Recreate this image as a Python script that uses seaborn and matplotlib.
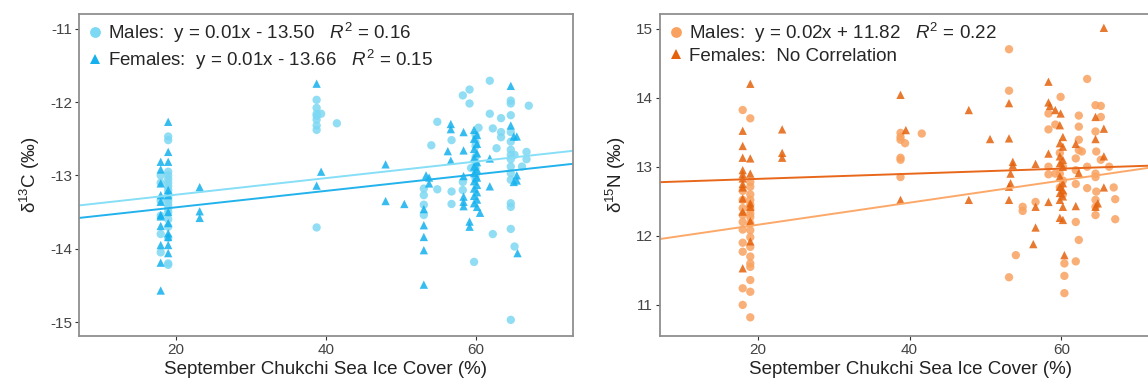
import numpy as np
import pandas as pd
import matplotlib
matplotlib.use('Agg')
import matplotlib.pyplot as plt
import seaborn as sns

# ---------------- data ----------------
# x = September Chukchi Sea ice cover (%)
c13_male_x = [18, 18, 18, 18, 18, 18,
              19, 19, 19, 19, 19, 19, 19, 19, 19, 19, 19, 19, 19, 19, 19, 19, 19, 19, 19,
              38.8, 38.8, 38.8, 38.8, 38.8, 38.8, 38.8, 39.4, 41.5, 38.8,
              54.9, 54.1, 53.1, 53.1, 53.1, 53.1, 54.9, 56.8, 56.8, 56.8,
              58.3, 59.2, 59.2, 58.3, 58.3,
              61.9, 61.9, 62.3, 62.8, 62.3, 59.8, 63.4, 63.4, 63.4,
              64.7, 64.7, 64.7, 64.7, 64.7, 64.7, 64.7, 64.7, 64.7, 64.7, 64.7, 64.7, 64.7, 64.7, 64.7,
              65.2, 65.2, 66.8, 66.8, 67.1, 66.2,
              60, 60, 60, 60, 60, 60, 60, 60, 60.4, 59.4]
c13_male_y = [-13.0, -13.1, -13.35, -13.55, -13.8, -14.05,
              -12.47, -12.52, -12.95, -13.0, -13.05, -13.1, -13.15, -13.2, -13.25, -13.3, -13.35,
              -13.4, -13.45, -13.5, -13.6, -13.7, -13.85, -14.2, -14.22,
              -11.97, -12.08, -12.16, -12.19, -12.24, -12.32, -12.38, -12.16, -12.29, -13.71,
              -12.27, -12.59, -13.18, -13.27, -13.40, -13.54, -13.19, -12.52, -13.22, -13.39,
              -11.91, -11.83, -12.02, -13.09, -13.2,
              -11.71, -12.16, -12.36, -12.63, -13.80, -14.18, -12.22, -12.41, -12.48,
              -11.98, -12.02, -12.18, -12.41, -12.54, -12.65, -12.72, -12.78, -12.88, -12.97,
              -13.06, -13.38, -13.43, -13.73, -14.97,
              -12.72, -13.97, -12.68, -12.78, -12.05, -12.88,
              -12.45, -12.55, -12.6, -12.75, -12.85, -12.9, -13.0, -13.05, -12.35, -12.9]

c13_fem_x = [18, 18, 18, 18, 18, 18, 18, 18, 18, 18, 18,
             19, 19, 19, 19, 19, 19, 19, 19, 19, 19, 19,
             23.2, 23.2, 23.2,
             38.8, 39.4, 38.8, 48, 48, 50.5,
             53.4, 53.8, 53.1, 53.1, 53.1, 53.1, 53.1, 53.8,
             56.7, 56.7, 56.3, 56.7,
             58.4, 58.4, 58.4, 58.4, 58.4, 58.4, 59.2, 59.2,
             59.8, 60.2, 59.8, 60.2, 59.8, 60.2, 59.8, 60.2, 59.8, 60.2, 59.8, 60.2, 59.8, 60.2,
             59.8, 60.2, 59.8, 60.2, 59.8, 60.2, 60.6,
             61.9, 61.9, 64.7, 64.7, 65.1, 65.5, 65.1, 65.5, 65.5, 65.6]
c13_fem_y = [-12.815, -12.92, -13.11, -13.27, -13.36, -13.54, -13.56, -13.69, -13.95, -14.19, -14.57,
             -12.27, -12.68, -12.815, -13.2, -13.27, -13.5, -13.65, -13.79, -13.84, -13.95, -14.06,
             -13.16, -13.49, -13.58,
             -11.75, -12.95, -13.14, -12.85, -13.35, -13.39,
             -13.0, -13.03, -13.46, -13.68, -13.84, -14.02, -14.49, -13.11,
             -12.30, -12.37, -12.67, -12.8,
             -12.41, -12.66, -13.01, -13.29, -13.36, -13.42, -13.63, -13.70,
             -12.38, -12.45, -12.5, -12.57, -12.64, -12.7, -12.76, -12.82, -12.88, -12.92,
             -12.97, -13.03, -13.08, -13.13, -13.18, -13.23, -13.28, -13.33, -13.38, -13.43, -13.51,
             -12.77, -13.15, -11.78, -12.32, -12.47, -12.47, -13.09, -13.0, -13.07, -14.06]

n15_male_x = [18, 18, 18, 18, 18, 18, 18, 18, 18, 18, 18,
              19, 19, 19, 19, 19, 19, 19, 19, 19, 19, 19, 19, 19, 19, 19, 19, 19, 19, 19,
              38.8, 38.8, 38.8, 39.4, 38.8, 38.8, 38.8, 41.6,
              53.1, 53.1, 54.0, 53.1, 54.9, 54.9, 56.6,
              58.3, 58.3, 58.3, 58.3, 59.2, 59.9, 60.4, 60.4, 60.4,
              61.9, 61.9, 61.9, 62.3, 62.3, 62.3, 62.3, 61.9, 62.3, 61.9, 62.7,
              63.4, 63.4, 63.4, 64.5, 65.2, 65.2, 64.5, 65.2, 64.5, 64.5, 64.5, 64.5, 64.5,
              66.9, 67.1, 67.1, 66.3, 64.6, 64.6,
              59.8, 60.2, 59.8, 60.2, 59.8, 60.2, 59.2]
n15_male_y = [13.82, 12.65, 12.52, 12.4, 12.30, 12.2, 12.09, 11.90, 11.77, 11.24, 11.0,
              13.70, 12.78, 12.71, 12.6, 12.52, 12.45, 12.38, 12.32, 12.27, 12.18, 12.08, 11.98,
              11.84, 11.70, 11.60, 11.55, 11.36, 11.19, 10.82,
              13.49, 13.43, 13.39, 13.34, 13.13, 13.10, 12.85, 13.48,
              14.70, 14.10, 11.72, 11.40, 12.42, 12.36, 12.49,
              13.77, 13.54, 13.0, 12.89, 13.61, 14.01, 11.60, 11.42, 11.17,
              13.12, 12.95, 12.75, 13.74, 13.58, 13.39, 13.24, 12.20, 11.94, 11.63, 13.22,
              14.27, 13.0, 12.69, 13.89, 13.88, 13.72, 13.51, 13.10, 12.90, 12.85, 12.52, 12.42, 12.30,
              12.70, 12.53, 12.24, 13.0, 13.22, 12.64,
              13.2, 13.0, 12.9, 12.8, 12.7, 12.6, 12.9]

n15_fem_x = [18, 18, 18, 18, 18, 18, 18, 18, 18, 18, 18,
             19, 19, 19, 19, 19, 19, 19,
             23.2, 23.2, 23.2,
             38.8, 39.5, 38.8, 47.8, 47.8, 50.6,
             53.1, 53.1, 53.6, 53.6, 53.3, 53.3, 53.1, 53.1,
             56.6, 56.6, 56.6, 56.3,
             58.3, 58.3, 58.5, 58.3, 58.3, 59.2, 59.9,
             59.8, 60.2, 59.8, 60.2, 59.8, 60.2, 59.8, 60.2, 59.8, 60.2, 59.8, 60.2, 59.8, 60.2,
             59.8, 60.2, 59.8, 60.2, 60.4,
             61.9, 62.3, 61.9, 64.5, 65.6, 64.5, 65.6, 65.6, 64.8, 64.5, 65.6]
n15_fem_y = [13.52, 13.30, 13.13, 12.95, 12.89, 12.83, 12.75, 12.70, 12.54, 12.35, 11.53,
             14.20, 13.12, 12.90, 12.47, 12.42, 12.21, 11.92,
             13.54, 13.20, 13.13,
             14.04, 13.53, 12.52, 13.82, 12.52, 13.40,
             13.92, 13.41, 13.07, 13.02, 12.90, 12.76, 12.71, 12.52,
             13.04, 12.42, 12.12, 11.88,
             14.23, 13.93, 13.88, 13.19, 12.49, 13.82, 13.77,
             13.6, 13.43, 13.34, 13.29, 13.15, 13.10, 13.05, 13.00, 12.86, 12.76, 12.71, 12.66,
             12.62, 12.57, 12.52, 12.42, 12.26, 12.23, 11.72,
             13.33, 12.91, 12.43, 13.72, 13.55, 13.40, 13.15, 12.70, 12.47, 12.42, 15.01]

# regression lines (slope, intercept) as drawn
c13_fit = {'male': (0.0113, -13.49), 'female': (0.0112, -13.66)}
n15_fit = {'male': (0.016, 11.84), 'female': (0.0037, 12.75)}

c13_labels = ['Males:  y = 0.01x - 13.50   $R^2$ = 0.16',
              'Females:  y = 0.01x - 13.66   $R^2$ = 0.15']
n15_labels = ['Males:  y = 0.02x + 11.82   $R^2$ = 0.22',
              'Females:  No Correlation']

c13_colors = {'male': '#7dd8f3', 'female': '#14b1ee'}
n15_colors = {'male': '#f9a260', 'female': '#e4620c'}
n15_lines = {'male': '#fca868', 'female': '#e8671a'}
c13_lines = {'male': '#86def7', 'female': '#22b2ec'}

# ---------------- style ----------------
sns.set_style('white')
plt.rcParams['font.family'] = ['Liberation Sans', 'DejaVu Sans']
plt.rcParams['axes.unicode_minus'] = False
plt.rcParams['mathtext.fontset'] = 'custom'
plt.rcParams['mathtext.rm'] = 'Liberation Sans'
plt.rcParams['mathtext.it'] = 'Liberation Sans:italic'

fig = plt.figure(figsize=(11.48, 3.85), dpi=100)
ax1 = fig.add_axes([79 / 1148, 49 / 385, 494 / 1148, 322 / 385])
ax2 = fig.add_axes([660 / 1148, 49 / 385, 500 / 1148, 322 / 385])


def panel(ax, mx, my, fx, fy, labels, colors, lcolors, fit, ylim, yticks, ylabel):
    df = pd.concat([
        pd.DataFrame({'x': mx, 'y': my, 'grp': labels[0]}),
        pd.DataFrame({'x': fx, 'y': fy, 'grp': labels[1]}),
    ])
    pal = {labels[0]: colors['male'], labels[1]: colors['female']}
    mk = {labels[0]: 'o', labels[1]: '^'}
    sns.scatterplot(data=df, x='x', y='y', hue='grp', style='grp', palette=pal,
                    markers=mk, s=36, alpha=0.85, linewidth=0, ax=ax)
    for key in ['male', 'female']:
        m, b = fit[key]
        ax.axline((0, b), slope=m, color=lcolors[key], lw=1.4, zorder=1)
    ax.set_xlim(7.1, 73)
    ax.set_ylim(*ylim)
    ax.set_xticks([20, 40, 60])
    ax.set_yticks(yticks)
    ax.tick_params(axis='both', labelsize=11, labelcolor='#444444', color='#333333',
                   length=3, width=0.8, direction='out', left=True, bottom=True, pad=2)
    for sp in ax.spines.values():
        sp.set_color('#8f8f8f')
        sp.set_linewidth(1.3)
    ax.set_xlabel('September Chukchi Sea Ice Cover (%)', fontsize=13.5, color='#222222', labelpad=3)
    ax.set_ylabel(ylabel, fontsize=13.5, color='#222222', labelpad=6)
    leg = ax.legend(loc='upper left', frameon=False, fontsize=13.5, handletextpad=0.2,
                    handlelength=1.0, borderpad=0.15, borderaxespad=0.2,
                    labelspacing=0.15, markerscale=1.3, title=None)
    for h in leg.legend_handles:
        h.set_alpha(1)


panel(ax1, c13_male_x, c13_male_y, c13_fem_x, c13_fem_y, c13_labels, c13_colors, c13_lines,
      c13_fit, (-15.19, -10.80), [-15, -14, -13, -12, -11], r'$\mathregular{\delta^{13}}$C (‰)')
panel(ax2, n15_male_x, n15_male_y, n15_fem_x, n15_fem_y, n15_labels, n15_colors, n15_lines,
      n15_fit, (10.55, 15.21), [11, 12, 13, 14, 15], r'$\mathregular{\delta^{15}}$N (‰)')

fig.savefig('out.png', dpi=100)
